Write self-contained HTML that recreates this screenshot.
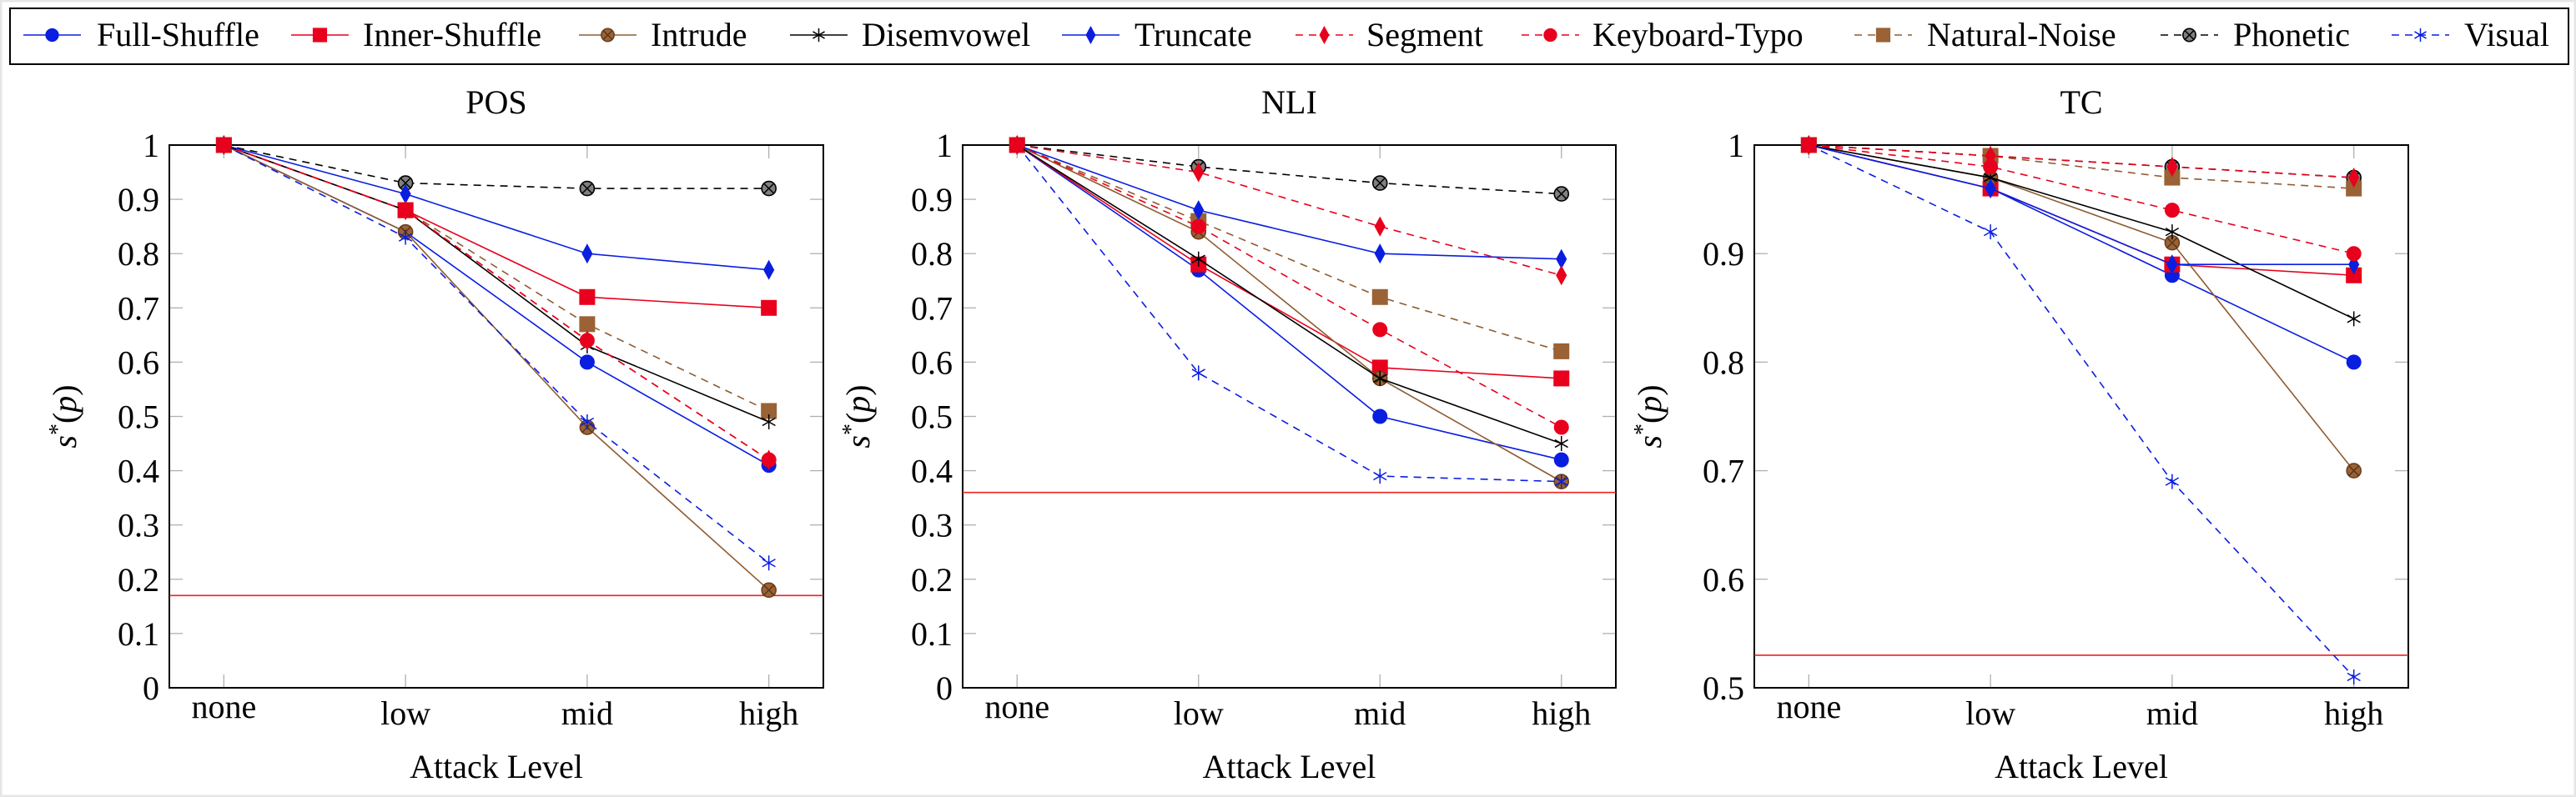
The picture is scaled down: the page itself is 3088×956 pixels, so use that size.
<!DOCTYPE html>
<html><head><meta charset="utf-8">
<style>
html,body{margin:0;padding:0;background:#fff;}
svg{display:block;}
svg text{font-family:"Liberation Serif","DejaVu Serif",serif;}
</style></head>
<body>
<svg id="chart" width="3088" height="956" viewBox="0 0 3088 956" xmlns="http://www.w3.org/2000/svg" font-family="Liberation Serif, serif">
<rect x="1" y="1" width="3086" height="954" fill="#fff" stroke="#e6e6e6" stroke-width="3"/>
</svg>
<script>
const categories = ["none","low","mid","high"];
const seriesNames = ["Full-Shuffle","Inner-Shuffle","Intrude","Disemvowel","Truncate","Segment","Keyboard-Typo","Natural-Noise","Phonetic","Visual"];
const panelTitles = ["POS","NLI","TC"];
const posValues = [
  [1,0.84,0.60,0.41],[1,0.88,0.72,0.70],[1,0.84,0.48,0.18],[1,0.88,0.63,0.49],[1,0.91,0.80,0.77],
  [1,0.88,0.64,0.42],[1,0.88,0.64,0.42],[1,0.88,0.67,0.51],[1,0.93,0.92,0.92],[1,0.83,0.49,0.23]];
const nliValues = [
  [1,0.77,0.50,0.42],[1,0.78,0.59,0.57],[1,0.84,0.57,0.38],[1,0.79,0.57,0.45],[1,0.88,0.80,0.79],
  [1,0.95,0.85,0.76],[1,0.85,0.66,0.48],[1,0.86,0.72,0.62],[1,0.96,0.93,0.91],[1,0.58,0.39,0.38]];
const tcValues = [
  [1,0.96,0.88,0.80],[1,0.96,0.89,0.88],[1,0.97,0.91,0.70],[1,0.97,0.92,0.84],[1,0.96,0.89,0.89],
  [1,0.99,0.98,0.97],[1,0.98,0.94,0.90],[1,0.99,0.97,0.96],[1,0.99,0.98,0.97],[1,0.92,0.69,0.51]];
const baselines = [0.17,0.36,0.53];
const posTicks = ["0","0.1","0.2","0.3","0.4","0.5","0.6","0.7","0.8","0.9","1"];
const nliTicks = ["0","0.1","0.2","0.3","0.4","0.5","0.6","0.7","0.8","0.9","1"];
const tcTicks = ["0.5","0.6","0.7","0.8","0.9","1"];

const NS="http://www.w3.org/2000/svg";
const svg=document.getElementById('chart');
const BLUE="#0a1ee0", RED="#e8001c", BROWN="#8f5b30", BLK="#000";
const FONT="Liberation Serif, DejaVu Serif, serif";
const styles=[
 {c:BLUE,dash:false,m:"circle",fill:BLUE},
 {c:RED,dash:false,m:"square",fill:RED},
 {c:BROWN,dash:false,m:"otimes",fill:"#9a6235"},
 {c:BLK,dash:false,m:"star",fill:BLK},
 {c:BLUE,dash:false,m:"diamond",fill:BLUE},
 {c:RED,dash:true,m:"diamond",fill:RED},
 {c:RED,dash:true,m:"circle",fill:RED},
 {c:BROWN,dash:true,m:"square",fill:"#9a6235"},
 {c:BLK,dash:true,m:"otimes",fill:"#808080"},
 {c:BLUE,dash:true,m:"star",fill:BLUE}];
const drawOrder=[8,7,0,1,2,3,4,9,6,5];
function el(tag,attrs,parent){const e=document.createElementNS(NS,tag);for(const k in attrs)e.setAttribute(k,attrs[k]);if(tag==='text')e.setAttribute('font-family',FONT);(parent||svg).appendChild(e);return e;}
function marker(g,m,x,y,st,s){
  s=s||1;
  if(m==="circle"){el('circle',{cx:x,cy:y,r:8.5*s,fill:st.fill,stroke:st.fill,'stroke-width':1},g);}
  else if(m==="square"){el('rect',{x:x-9*s,y:y-9*s,width:18*s,height:18*s,fill:st.fill,stroke:st.fill,'stroke-width':1},g);}
  else if(m==="diamond"){el('polygon',{points:`${x},${y-11*s} ${x+6*s},${y} ${x},${y+11*s} ${x-6*s},${y}`,fill:st.fill,stroke:st.fill},g);}
  else if(m==="otimes"){const r=8.5*s;el('circle',{cx:x,cy:y,r:r,fill:st.fill,stroke:st.c==BLK?BLK:"#6b4020",'stroke-width':1.6},g);
    const d=r*0.7;el('path',{d:`M${x-d},${y-d}L${x+d},${y+d}M${x-d},${y+d}L${x+d},${y-d}`,stroke:st.c==BLK?BLK:"#5a3518",'stroke-width':1.5},g);}
  else if(m==="star"){const r=9*s;let d="";for(let i=0;i<6;i++){const a=Math.PI/2+i*Math.PI/3;d+=`M${x},${y}L${x+r*Math.cos(a)},${y-r*Math.sin(a)}`;}
    el('path',{d:d,stroke:st.c,'stroke-width':1.5,fill:"none"},g);}
}
// legend
const lg=el('g',{});


el('rect',{x:12,y:10,width:3067,height:67,fill:"#fff",stroke:"#000",'stroke-width':2},lg);
const legLine=[28,349,694,947,1273,1553,1824,2223,2590,2867];
const legText=[116,435,780,1033,1360,1638,1909,2310,2677,2954];
seriesNames.forEach((n,i)=>{
  const g=el('g',{},lg);
  
  
  const st=styles[i];
  el('line',{x1:legLine[i],y1:42,x2:legLine[i]+69,y2:42,stroke:st.c,'stroke-width':1.6,'stroke-dasharray':st.dash?"9,7":"none"},g);
  marker(g,st.m,legLine[i]+34.5,42,st,0.9);
  const t=el('text',{x:legText[i],y:55,'font-size':40},g);t.textContent=n;
});
const panels=[
 {vals:posValues,ticks:posTicks,ymin:0,ymax:1,L:203,R:987},
 {vals:nliValues,ticks:nliTicks,ymin:0,ymax:1,L:1154,R:1937},
 {vals:tcValues,ticks:tcTicks,ymin:0.5,ymax:1,L:2103,R:2887}];
const T=174,B=825;
panels.forEach((p,pi)=>{
  const g=el('g',{});
  
  
  const xs=i=>p.L+(i+0.3)/3.6*(p.R-p.L);
  const ys=v=>B-(v-p.ymin)/(p.ymax-p.ymin)*(B-T);
  const ttl=el('text',{x:(p.L+p.R)/2,y:136,'font-size':40,'text-anchor':'middle'},g);ttl.textContent=panelTitles[pi];
  
  
  p.ticks.forEach(t=>{const v=parseFloat(t),y=ys(v);
    el('line',{x1:p.L,y1:y,x2:p.L+16,y2:y,stroke:"#b0b0b0",'stroke-width':1.3},g);
    el('line',{x1:p.R-16,y1:y,x2:p.R,y2:y,stroke:"#b0b0b0",'stroke-width':1.3},g);
    const tx=el('text',{x:p.L-12,y:y+14,'font-size':40,'text-anchor':'end'},g);tx.textContent=t;
    
    });
  categories.forEach((c,i)=>{const x=xs(i);
    el('line',{x1:x,y1:B,x2:x,y2:B-16,stroke:"#b0b0b0",'stroke-width':1.3},g);
    el('line',{x1:x,y1:T,x2:x,y2:T+16,stroke:"#b0b0b0",'stroke-width':1.3},g);
    const tx=el('text',{x:x,y:c==="none"?861:869,'font-size':40,'text-anchor':'middle'},g);tx.textContent=c;
    
    });
  el('rect',{x:p.L,y:T,width:p.R-p.L,height:B-T,fill:"none",stroke:"#000",'stroke-width':2},g);
  const bl=el('line',{x1:p.L,y1:ys(baselines[pi]),x2:p.R,y2:ys(baselines[pi]),stroke:"#ee2020",'stroke-width':1.6},g);
  
  
  drawOrder.forEach(si=>{const arr=p.vals[si];const st=styles[si];
    const sg=el('g',{},g);
    
    
    el('polyline',{points:arr.map((v,i)=>xs(i)+","+ys(v)).join(" "),fill:"none",stroke:st.c,'stroke-width':1.6,'stroke-dasharray':st.dash?"9,7":"none"},sg);
    arr.forEach((v,i)=>marker(sg,st.m,xs(i),ys(v),st,1));
  });
  const xl=el('text',{x:(p.L+p.R)/2,y:933,'font-size':40,'text-anchor':'middle'},g);xl.textContent="Attack Level";
  
  
  const yl=el('text',{x:0,y:0,'font-size':40,'text-anchor':'middle',transform:`translate(${p.L-112},${(T+B)/2}) rotate(-90)`},g);
  yl.innerHTML='<tspan font-style="italic">s</tspan><tspan dy="-13" font-size="28">*</tspan><tspan dy="13">(</tspan><tspan font-style="italic">p</tspan>)';
  
  
});
</script>
</body></html>
